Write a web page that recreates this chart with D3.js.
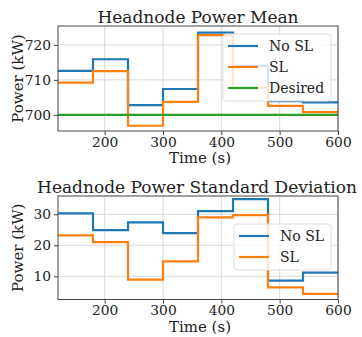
<!DOCTYPE html>
<html>
<head>
<meta charset="utf-8">
<script src="https://cdn.jsdelivr.net/npm/d3@7"></script>
<style>
  body { margin: 0; background: #fff; }
  svg { display: block; }
  text { font-family: "DejaVu Serif", serif; fill: #222; }
</style>
</head>
<body>
<svg id="chart" width="362" height="337"></svg>
<script>
// step start times (s); each value holds until the next start, last one until 600
var times = [120, 180, 240, 300, 360, 420, 480, 540];
var tEnd = 600;

var meanNoSL = [712.6, 715.9, 702.8, 707.4, 723.5, 714.0, 703.9, 703.6];
var meanSL   = [709.2, 712.5, 696.9, 703.7, 722.8, 707.8, 702.6, 700.8];
var meanDesired = [700, 700, 700, 700, 700, 700, 700, 700];

var stdNoSL = [30.3, 24.9, 27.4, 23.9, 31.0, 34.9, 8.6, 11.2];
var stdSL   = [23.2, 21.0, 8.9, 14.8, 29.0, 29.7, 6.4, 4.3];

var xTicks = [200, 300, 400, 500, 600];
var meanTicks = [700, 710, 720];
var stdTicks = [10, 20, 30];

var colors = {"No SL": "#1f77b4", "SL": "#ff7f0e", "Desired": "#2ca02c"};

var svg = d3.select("#chart");

function panel(opt){
    var g = svg.append("g");
    var x = d3.scaleLinear().domain([120, tEnd]).range([opt.left, opt.right]);
    var y = d3.scaleLinear().domain(opt.yDomain).range([opt.bottom, opt.top]);

    // grid
    g.selectAll("line.gx").data(xTicks).enter().append("line")
        .attr("x1", function(d){return x(d);}).attr("x2", function(d){return x(d);})
        .attr("y1", opt.top).attr("y2", opt.bottom)
        .attr("stroke", "#d9d9d9").attr("stroke-width", 1);
    g.selectAll("line.gy").data(opt.yTicks).enter().append("line")
        .attr("x1", opt.left).attr("x2", opt.right)
        .attr("y1", function(d){return y(d);}).attr("y2", function(d){return y(d);})
        .attr("stroke", "#d9d9d9").attr("stroke-width", 1);

    // step lines
    var line = d3.line()
        .x(function(d){return x(d[0]);})
        .y(function(d){return y(d[1]);})
        .curve(d3.curveStepAfter);
    opt.series.forEach(function(s){
        var pts = times.map(function(t, i){return [t, s.values[i]];});
        pts.push([tEnd, s.values[s.values.length-1]]);
        g.append("path").datum(pts)
            .attr("d", line)
            .attr("fill", "none")
            .attr("stroke", colors[s.name])
            .attr("stroke-width", 2.2);
    });

    // axes
    var xa = g.append("g").attr("transform", "translate(0," + opt.bottom + ")")
        .call(d3.axisBottom(x).tickValues(xTicks).tickSize(4).tickPadding(2));
    var ya = g.append("g").attr("transform", "translate(" + opt.left + ",0)")
        .call(d3.axisLeft(y).tickValues(opt.yTicks).tickSize(4).tickPadding(3));
    [xa, ya].forEach(function(a){
        a.select(".domain").remove();
        a.selectAll("line").attr("stroke", "#444");
        a.selectAll("text").style("font-family", "DejaVu Serif").style("font-size", "13.8px").attr("fill", "#222");
    });
    g.append("rect")
        .attr("x", opt.left).attr("y", opt.top)
        .attr("width", opt.right - opt.left).attr("height", opt.bottom - opt.top)
        .attr("fill", "none").attr("stroke", "#444").attr("stroke-width", 1);

    // labels
    g.append("text").attr("x", (opt.left + opt.right)/2 + 2).attr("y", opt.bottom + 32)
        .attr("text-anchor", "middle").style("font-size", "15px").text("Time (s)");
    g.append("text")
        .attr("transform", "translate(23," + ((opt.top + opt.bottom)/2) + ") rotate(-90)")
        .attr("text-anchor", "middle").style("font-size", "15px").text("Power (kW)");
    g.append("text").attr("x", opt.titleX).attr("y", opt.top - 3.5)
        .attr("text-anchor", "middle").style("font-size", "17px").text(opt.title);

    // legend
    var lg = g.append("g");
    lg.append("rect")
        .attr("x", opt.legend.x).attr("y", opt.legend.y)
        .attr("width", opt.legend.w).attr("height", opt.series.length*21 + 4)
        .attr("rx", 3)
        .attr("fill", "rgba(255,255,255,0.8)").attr("stroke", "#ddd");
    opt.series.forEach(function(s, i){
        var cy = opt.legend.y + 12 + i*21;
        lg.append("line")
            .attr("x1", opt.legend.x + 5).attr("x2", opt.legend.x + 35)
            .attr("y1", cy).attr("y2", cy)
            .attr("stroke", colors[s.name]).attr("stroke-width", 2.2);
        lg.append("text").attr("x", opt.legend.x + 46).attr("y", cy + 5)
            .style("font-size", "14px").text(s.name);
    });
}

panel({
    left: 58, right: 338, top: 26, bottom: 131,
    yDomain: [695.4, 725.4], yTicks: meanTicks,
    title: "Headnode Power Mean", titleX: 198,
    series: [{name: "No SL", values: meanNoSL}, {name: "SL", values: meanSL}, {name: "Desired", values: meanDesired}],
    legend: {x: 223, y: 34, w: 108}
});

panel({
    left: 58, right: 338, top: 196, bottom: 299.5,
    yDomain: [2.5, 35.9], yTicks: stdTicks,
    title: "Headnode Power Standard Deviation", titleX: 197,
    series: [{name: "No SL", values: stdNoSL}, {name: "SL", values: stdSL}],
    legend: {x: 234, y: 224, w: 97}
});
</script>
</body>
</html>
